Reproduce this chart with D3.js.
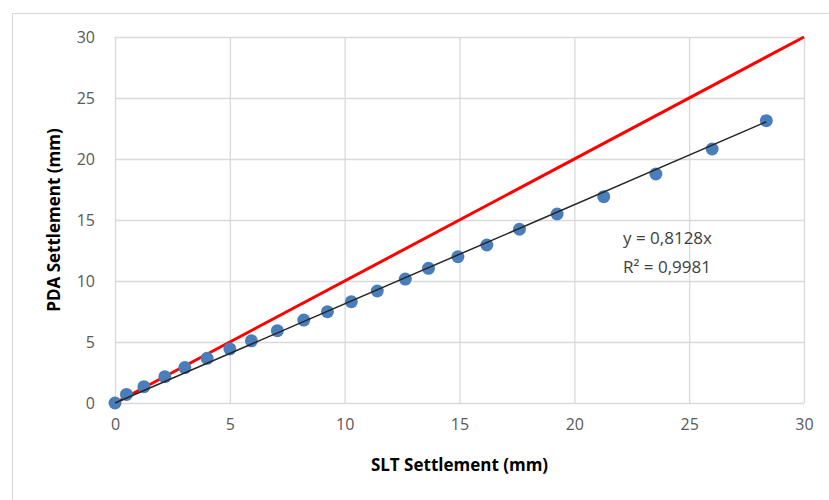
<!DOCTYPE html>
<html>
<head>
<meta charset="utf-8">
<script src="https://cdn.jsdelivr.net/npm/d3@7"></script>
<style>
    body { margin: 0; background: #fff; overflow: hidden; }
    text { font-family: "Open Sans", Lato, sans-serif; }
    .tick text { fill: #595959; font-size: 16px; }
    .axis-label { font-weight: bold; font-size: 17px; fill: #000; }
</style>
</head>
<body>
<div id="viz"></div>
<script>
const width = 829;
const height = 500;

// SLT vs PDA settlement readings (mm)
const sltValues = [0, 0.5, 1.26, 2.17, 3.04, 4.01, 5.0, 5.94, 7.07, 8.22, 9.25, 10.29, 11.42, 12.64,
    13.65, 14.93, 16.19, 17.61, 19.25, 21.28, 23.55, 26.0, 28.36];
const pdaValues = [0, 0.7, 1.34, 2.16, 2.9, 3.66, 4.43, 5.1, 5.93, 6.8, 7.48, 8.3, 9.18, 10.16,
    11.04, 11.99, 12.95, 14.24, 15.49, 16.91, 18.77, 20.82, 23.14];
const tickValues = [0, 5, 10, 15, 20, 25, 30];
const slope = 0.8128;
const equationLines = ["y = 0,8128x", "R² = 0,9981"];

const xAxisLabel = "SLT Settlement (mm)";
const yAxisLabel = "PDA Settlement (mm)";

const svg = d3.select("#viz")
    .append("svg")
    .attr("width", width)
    .attr("height", height)
    .style("display", "block");

// chart frame, only left and top edges show in the shot
svg.append("path")
    .attr("d", `M12.5,${height}V13.5H${width}`)
    .attr("fill", "none")
    .attr("stroke", "#d9d9d9");

const margin = { top: 37, right: 25, left: 115, bottom: 97 };
const innerWidth = width - margin.left - margin.right;
const innerHeight = height - margin.top - margin.bottom;

const data = sltValues.map((d, i) => ({ slt: d, pda: pdaValues[i] }));

const xScale = d3.scaleLinear().domain([0, 30]).range([0, innerWidth]);
const yScale = d3.scaleLinear().domain([0, 30]).range([innerHeight, 0]);

const g = svg.append("g")
    .attr("transform", `translate(${margin.left}, ${margin.top})`);

const xAxis = d3.axisBottom(xScale)
    .tickValues(tickValues)
    .tickSize(-innerHeight)
    .tickPadding(16);

const yAxis = d3.axisLeft(yScale)
    .tickValues(tickValues)
    .tickSize(-innerWidth)
    .tickPadding(20);

const xAxisG = g.append("g")
    .attr("transform", `translate(0, ${innerHeight})`)
    .call(xAxis);
const yAxisG = g.append("g").call(yAxis);

[xAxisG, yAxisG].forEach(a => {
    a.select(".domain").remove();
    a.selectAll(".tick line").attr("stroke", "#d9d9d9").attr("stroke-width", 1.3);
});

// 1:1 line
g.append("line")
    .attr("x1", xScale(0)).attr("y1", yScale(0))
    .attr("x2", xScale(30)).attr("y2", yScale(30))
    .attr("stroke", "#ff0000")
    .attr("stroke-width", 3);

// points
g.selectAll("circle")
    .data(data)
    .enter()
    .append("circle")
    .attr("cx", d => xScale(d.slt))
    .attr("cy", d => yScale(d.pda))
    .attr("r", 6.5)
    .attr("fill", "#4a7ebb");

// linear trend through origin
const xMax = d3.max(sltValues);
g.append("line")
    .attr("x1", xScale(0)).attr("y1", yScale(0))
    .attr("x2", xScale(xMax)).attr("y2", yScale(slope * xMax))
    .attr("stroke", "#262626")
    .attr("stroke-width", 1.5);

g.selectAll(".eq")
    .data(equationLines)
    .enter()
    .append("text")
    .attr("class", "eq")
    .attr("x", 508)
    .attr("y", (d, i) => 207 + i * 29)
    .attr("fill", "#404040")
    .attr("font-size", 17)
    .text(d => d);

xAxisG.append("text")
    .attr("class", "axis-label")
    .attr("x", innerWidth / 2)
    .attr("y", 68)
    .attr("text-anchor", "middle")
    .text(xAxisLabel);

yAxisG.append("text")
    .attr("class", "axis-label")
    .attr("x", -innerHeight / 2)
    .attr("y", -55)
    .attr("transform", "rotate(-90)")
    .attr("text-anchor", "middle")
    .text(yAxisLabel);
</script>
</body>
</html>
